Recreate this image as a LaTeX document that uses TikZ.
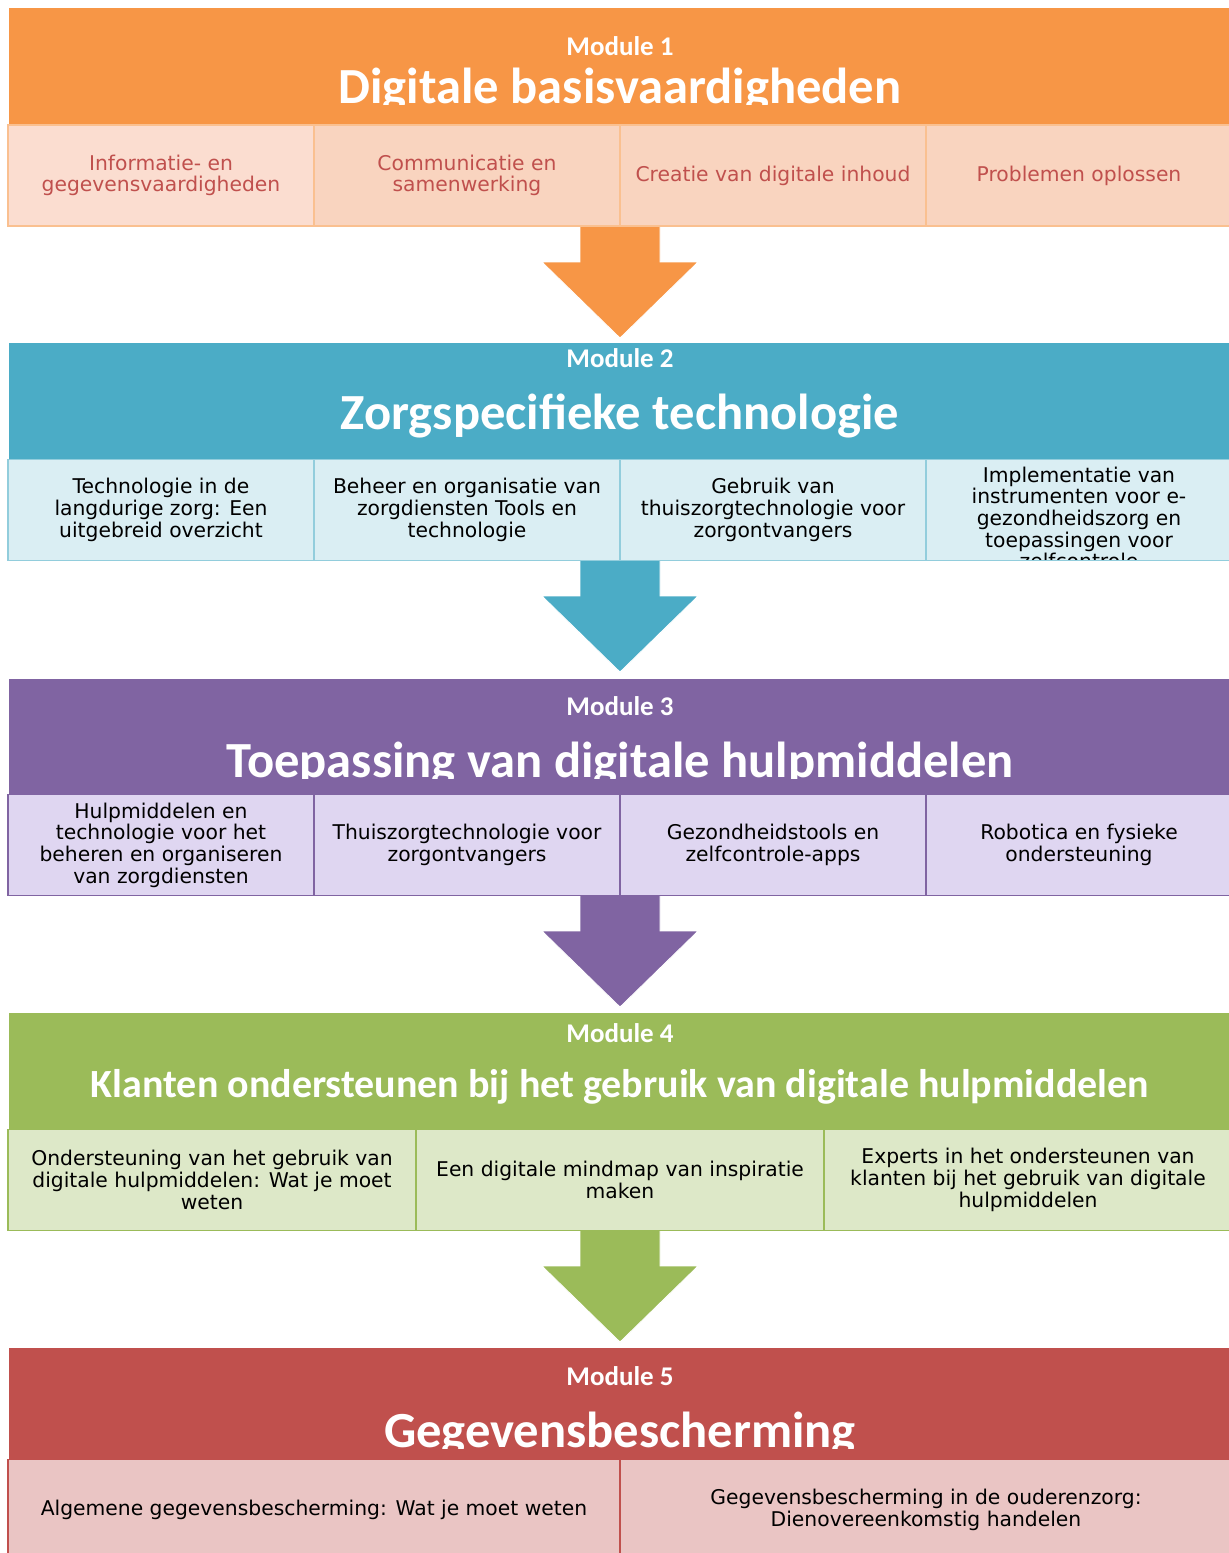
\documentclass[tikz,border=0pt]{standalone}
\usepackage{fontspec}
\newfontfamily\hdfont{Carlito}
\newfontfamily\cellfont{DejaVu Sans}
\definecolor{oH}{HTML}{F79646}
\definecolor{oFa}{HTML}{FBDDD0}
\definecolor{oF}{HTML}{F9D4BF}
\definecolor{oB}{HTML}{FAC090}
\definecolor{oT}{HTML}{C0504D}
\definecolor{bH}{HTML}{4BACC6}
\definecolor{bF}{HTML}{DAEEF3}
\definecolor{bB}{HTML}{92CDDC}
\definecolor{pH}{HTML}{8064A2}
\definecolor{pF}{HTML}{DFD6F1}
\definecolor{gH}{HTML}{9BBB59}
\definecolor{gF}{HTML}{DDE8C8}
\definecolor{rH}{HTML}{C0504D}
\definecolor{rF}{HTML}{EAC5C4}
\tikzset{
  header/.style={rectangle, inner sep=0pt, minimum width=1223, minimum height=117, anchor=north west, draw=none},
  cell/.style={rectangle, line width=1.6pt, inner sep=0pt, align=center, minimum height=101,
    font=\cellfont\fontsize{20.3}{21.7}\selectfont},
  cellq/.style={cell, minimum width=306},
  cellt/.style={cell, minimum width=408},
  cellh/.style={cell, minimum width=612},
  modlabel/.style={font=\hdfont\bfseries\fontsize{27}{27}\selectfont, text=white, anchor=base, inner sep=0pt},
  modtitle/.style={font=\hdfont\bfseries\fontsize{50.6}{50.6}\selectfont, text=white, anchor=base, inner sep=0pt},
  blockarrow/.style={draw=white, line width=0.8pt}
}
\newcommand{\downarrowshape}[2]{%
  \fill[#2, blockarrow] (580,#1) -- (660,#1) -- (660,#1+36) -- (698,#1+36) -- (620,#1+112)
    -- (542,#1+36) -- (580,#1+36) -- cycle;}
\begin{document}
\begin{tikzpicture}[x=1pt,y=-1pt]
\useasboundingbox (0,0) rectangle (1229,1553);
\clip (0,0) rectangle (1229,1553);
\fill[white] (0,0) rectangle (1229,1553);

% ---------------- Module 1
\node[header, fill=oH] (h1) at (9,8) {};
\node[modlabel] (l1) at (620,55) {Module 1};
\begin{scope}
\clip (0,0) rectangle (1229,104);
\node[modtitle] (t1) at (620,103) {Digitale basisvaardigheden};
\end{scope}
\downarrowshape{226}{oH}
\begin{scope}[every node/.append style={draw=oB, text=oT}]
\node[cellq, fill=oFa] (c11) at (161,175.5) {Informatie- en\\gegevensvaardigheden};
\node[cellq, fill=oF] (c12) at (467,175.5) {Communicatie en\\samenwerking};
\node[cellq, fill=oF] (c13) at (773,175.5) {Creatie van digitale inhoud};
\node[cellq, fill=oF] (c14) at (1079,175.5) {Problemen oplossen};
\end{scope}

% ---------------- Module 2
\node[header, fill=bH] (h2) at (9,343) {};
\node[modlabel] (l2) at (620,367) {Module 2};
\node[modtitle] (t2) at (620,429) {Zorgspecifieke technologie};
\downarrowshape{560}{bH}
\begin{scope}[every node/.append style={draw=bB, text=black}]
\node[cellq, fill=bF] (c21) at (161,510) {Technologie in de\\langdurige zorg: Een\\uitgebreid overzicht};
\node[cellq, fill=bF] (c22) at (467,510) {Beheer en organisatie van\\zorgdiensten Tools en\\technologie};
\node[cellq, fill=bF] (c23) at (773,510) {Gebruik van\\thuiszorgtechnologie voor\\zorgontvangers};
\node[cellq, fill=bF] (c24) at (1079,510) {};
\end{scope}
\begin{scope}
\clip (926,460) rectangle (1232,559);
\node[cell, text=black] (c24t) at (1079,518) {Implementatie van\\instrumenten voor e-\\gezondheidszorg en\\toepassingen voor\\zelfcontrole};
\end{scope}

% ---------------- Module 3
\node[header, fill=pH] (h3) at (9,679) {};
\node[modlabel] (l3) at (620,715) {Module 3};
\begin{scope}
\clip (0,679) rectangle (1229,778);
\node[modtitle] (t3) at (620,777) {Toepassing van digitale hulpmiddelen};
\end{scope}
\downarrowshape{895}{pH}
\begin{scope}[every node/.append style={draw=pH, text=black}]
\node[cellq, fill=pF] (c31) at (161,845) {Hulpmiddelen en\\technologie voor het\\beheren en organiseren\\van zorgdiensten};
\node[cellq, fill=pF] (c32) at (467,845) {Thuiszorgtechnologie voor\\zorgontvangers};
\node[cellq, fill=pF] (c33) at (773,845) {Gezondheidstools en\\zelfcontrole-apps};
\node[cellq, fill=pF] (c34) at (1079,845) {Robotica en fysieke\\ondersteuning};
\end{scope}

% ---------------- Module 4
\node[header, fill=gH] (h4) at (9,1013) {};
\node[modlabel] (l4) at (620,1042) {Module 4};
\node[modtitle, font=\hdfont\bfseries\fontsize{40}{40}\selectfont] (t4) at (620,1097) {Klanten ondersteunen bij het gebruik van digitale hulpmiddelen};
\downarrowshape{1230}{gH}
\begin{scope}[every node/.append style={draw=gH, text=black}]
\node[cellt, fill=gF] (c41) at (212,1180) {Ondersteuning van het gebruik van\\digitale hulpmiddelen: Wat je moet\\weten};
\node[cellt, fill=gF] (c42) at (620,1180) {Een digitale mindmap van inspiratie\\maken};
\node[cellt, fill=gF] (c43) at (1028,1180) {Experts in het ondersteunen van\\klanten bij het gebruik van digitale\\hulpmiddelen};
\end{scope}

% ---------------- Module 5
\node[header, fill=rH, minimum height=112] (h5) at (9,1348) {};
\node[modlabel] (l5) at (620,1385) {Module 5};
\begin{scope}
\clip (0,1348) rectangle (1229,1448);
\node[modtitle] (t5) at (620,1447) {Gegevensbescherming};
\end{scope}
\begin{scope}[every node/.append style={draw=rH, text=black}]
\node[cellh, fill=rF] (c51) at (314,1510) {Algemene gegevensbescherming: Wat je moet weten};
\node[cellh, fill=rF] (c52) at (926,1510) {Gegevensbescherming in de ouderenzorg:\\Dienovereenkomstig handelen};
\end{scope}
\end{tikzpicture}
\end{document}
